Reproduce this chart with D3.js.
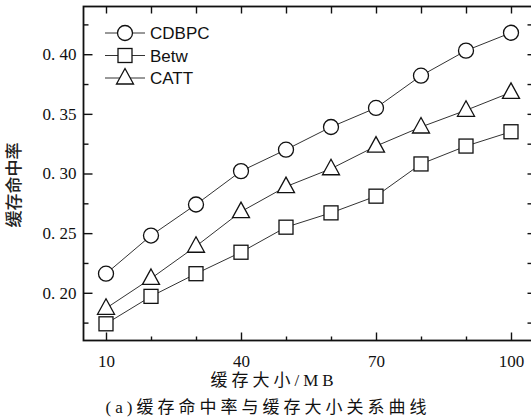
<!DOCTYPE html>
<html>
<head>
<meta charset="utf-8">
<script src="https://cdn.jsdelivr.net/npm/d3@7"></script>
<style>
  body { margin: 0; background: #fff; }
  svg { display: block; }
  .tick-label { font-family: "Liberation Serif", "DejaVu Serif", serif; font-size: 17px; fill: #111; }
  .legend-text { font-family: "Liberation Sans", Arial, sans-serif; font-size: 17px; fill: #111; }
  .cjk-serif { font-family: "Liberation Serif", "Noto Sans CJK SC", serif; font-size: 17px; fill: #111; letter-spacing: 4px; }
</style>
</head>
<body>
<svg width="531" height="420"></svg>
<script>
const svg = d3.select('svg');

// data
const sizes = [10, 20, 30, 40, 50, 60, 70, 80, 90, 100];
const cdbpc = [0.216, 0.248, 0.274, 0.302, 0.320, 0.339, 0.355, 0.382, 0.403, 0.418];
const betw  = [0.174, 0.197, 0.216, 0.234, 0.255, 0.267, 0.281, 0.308, 0.323, 0.335];
const catt  = [0.187, 0.212, 0.239, 0.268, 0.289, 0.304, 0.323, 0.339, 0.353, 0.368];
const seriesNames = ['CDBPC', 'Betw', 'CATT'];
const symbols = ['circle', 'square', 'triangle'];
const xMajor = [10, 40, 70, 100];
const xMinor = [20, 30, 50, 60, 80, 90];
const yMajor = [0.20, 0.25, 0.30, 0.35, 0.40];
const yMinor = [0.175, 0.225, 0.275, 0.325, 0.375, 0.425];

const pLeft = 83.5, pRight = 533.5, pTop = 6.5, pBottom = 340.5;

const x = d3.scaleLinear().domain([5, 105]).range([pLeft, pRight]);
const y = d3.scaleLinear().domain([0.16, 0.44]).range([pBottom, pTop]);

// frame
svg.append('rect')
    .attr('x', pLeft).attr('y', pTop)
    .attr('width', pRight - pLeft).attr('height', pBottom - pTop)
    .attr('fill', 'none').attr('stroke', '#111').attr('stroke-width', 1.8);

const fmtY = v => d3.format('.2f')(v).replace('.', '. ');

// bottom axis (inward ticks) + top mirror
const xAxis = (ticks, len, labels) => d3.axisBottom(x).tickValues(ticks)
    .tickSize(-len).tickFormat(labels ? d3.format('d') : '');
svg.append('g').attr('transform', `translate(0,${pBottom})`).call(xAxis(xMinor, 4, false));
svg.append('g').attr('transform', `translate(0,${pBottom})`).call(xAxis(xMajor, 8, true))
  .call(g => g.selectAll('text').attr('class', 'tick-label').attr('y', 9).attr('dy', '1.05em'));
svg.append('g').attr('transform', `translate(0,${pTop})`)
    .call(d3.axisTop(x).tickValues(xMajor.concat(xMinor)).tickSize(-7).tickFormat(''));

// left axis + right mirror
svg.append('g').attr('transform', `translate(${pLeft},0)`)
    .call(d3.axisLeft(y).tickValues(yMinor).tickSize(-5).tickFormat(''));
svg.append('g').attr('transform', `translate(${pLeft},0)`)
    .call(d3.axisLeft(y).tickValues(yMajor).tickSize(-9).tickFormat(fmtY))
  .call(g => g.selectAll('text').attr('class', 'tick-label').attr('x', -7));
svg.append('g').attr('transform', `translate(${pRight},0)`)
    .call(d3.axisRight(y).tickValues(yMajor.concat(yMinor)).tickSize(-6).tickFormat(''));

svg.selectAll('.domain').remove();
svg.selectAll('.tick line').attr('stroke', '#111').attr('stroke-width', 1.4);

// series
const all = [cdbpc, betw, catt];
const line = d3.line().x((d, i) => x(sizes[i])).y(d => y(d));

function marker(g, type) {
  if (type === 'circle') {
    g.append('circle').attr('r', 7.5);
  } else if (type === 'square') {
    g.append('rect').attr('x', -7).attr('y', -7).attr('width', 14).attr('height', 14);
  } else {
    g.append('path').attr('d', 'M0,-9.5L8.5,6L-8.5,6Z');
  }
  g.selectAll('*').attr('fill', '#fff').attr('stroke', '#111').attr('stroke-width', 1.3);
}

all.forEach((vals, k) => {
  svg.append('path').datum(vals)
      .attr('fill', 'none').attr('stroke', '#333').attr('stroke-width', 1)
      .attr('d', line);
  svg.append('g').selectAll('g').data(vals).join('g')
      .attr('transform', (d, i) => `translate(${x(sizes[i])},${y(d)})`)
      .each(function () { marker(d3.select(this), symbols[k]); });
});

// legend
const legend = svg.append('g');
seriesNames.forEach((name, k) => {
  const ly = 33 + k * 22.5;
  legend.append('line').attr('x1', 105).attr('x2', 145).attr('y1', ly).attr('y2', ly)
      .attr('stroke', '#333').attr('stroke-width', 1);
  const m = legend.append('g').attr('transform', `translate(125,${ly})`);
  marker(m, symbols[k]);
  legend.append('text').attr('class', 'legend-text')
      .attr('x', 150).attr('y', ly).attr('dy', '0.36em').text(name);
});

// titles
svg.append('text')
    .attr('transform', 'translate(20,185) rotate(-90)')
    .attr('text-anchor', 'middle')
    .style('font-family', '"Noto Sans CJK SC", sans-serif')
    .style('font-size', '17px').style('font-weight', 500).style('fill', '#222')
    .text('缓存命中率');

svg.append('text').attr('class', 'cjk-serif')
    .attr('x', 274).attr('y', 386).attr('text-anchor', 'middle')
    .text('缓存大小/MB');

svg.append('text').attr('class', 'cjk-serif')
    .attr('x', 268).attr('y', 413).attr('text-anchor', 'middle')
    .text('(a)缓存命中率与缓存大小关系曲线');
</script>
</body>
</html>
